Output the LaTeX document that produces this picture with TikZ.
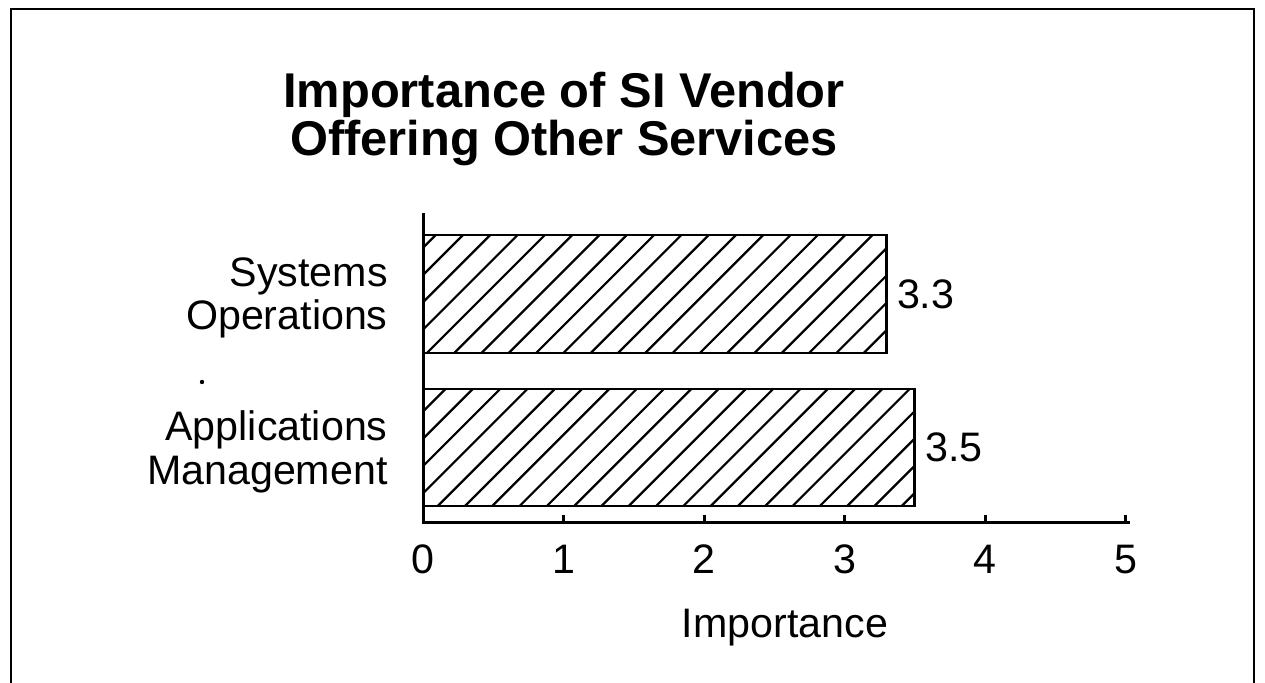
\documentclass[tikz,border=0pt]{standalone}
\usepackage{fontspec}
\setmainfont{Liberation Sans}
\begin{document}
\begin{tikzpicture}[x=0.5pt,y=-0.5pt,
  frameline/.style={line width=1pt},
  axisline/.style={line width=1.5pt},
  barbox/.style={line width=1.4pt},
  hatchline/.style={line width=1.1pt},
  titletext/.style={font=\fontsize{24.4}{24}\bfseries\selectfont, align=center, inner sep=0pt},
  cattext/.style={font=\fontsize{20.6}{21.8}\selectfont, align=right, inner sep=0pt},
  ticktext/.style={font=\fontsize{20.6}{21.8}\selectfont, inner sep=0pt, anchor=base},
  valtext/.style={font=\fontsize{20.6}{21.8}\selectfont, inner sep=0pt, anchor=west}]
\useasboundingbox (0,0) rectangle (1265,683);

% outer frame, open at the bottom
\draw[frameline] (11,683) -- (11,9) -- (1254,9) -- (1254,683);

% title (base anchor sits on the last line)
\node[titletext, anchor=base] (title) at (564,156) {Importance of SI Vendor\\Offering Other Services};

% bars with diagonal hatching (value 3.3 and 3.5, 140.5 px per unit)
\foreach \name/\top/\bot/\val in {sysop/235/353/3.3, appmgmt/389/506/3.5}{
  \pgfmathsetmacro{\xr}{423+140.5*\val}
  \begin{scope}
    \clip (423,\top) rectangle (\xr,\bot);
    \foreach \k in {-8,...,40}{
      \pgfmathsetmacro{\c}{698+27.3*\k}
      \draw[hatchline] (\c-\bot,\bot) -- (\c-\top,\top);
    }
  \end{scope}
  \draw[barbox] (423,\top) rectangle (\xr,\bot);
  \coordinate (\name) at (\xr,{(\top+\bot)/2});
}

% axes
\coordinate (origin) at (423,523);
\coordinate (ytop) at (423,215);
\coordinate (xend) at (1128,523);
\draw[axisline, line cap=rect] (ytop) -- (origin) -- (xend);
\foreach \i in {1,...,5}{
  \draw[axisline] (423+140.5*\i,523) -- (423+140.5*\i,515);
}
\foreach \i in {0,...,5}{
  \node[ticktext] (tick\i) at (423+140.5*\i,574) {\i};
}

% value labels
\node[valtext] (v1) at ([xshift=5pt]sysop) {3.3};
\node[valtext] (v2) at ([xshift=5pt]appmgmt) {3.5};

% category labels
\node[cattext, anchor=east] (lab1) at (388,298) {Systems\\Operations};
\node[cattext, anchor=east] (lab2) at (388,452) {Applications\\Management};

% stray dot
\fill (202,382) circle (2.2);

% axis title
\node[ticktext] (xlabel) at (785,638) {Importance};
\end{tikzpicture}
\end{document}
